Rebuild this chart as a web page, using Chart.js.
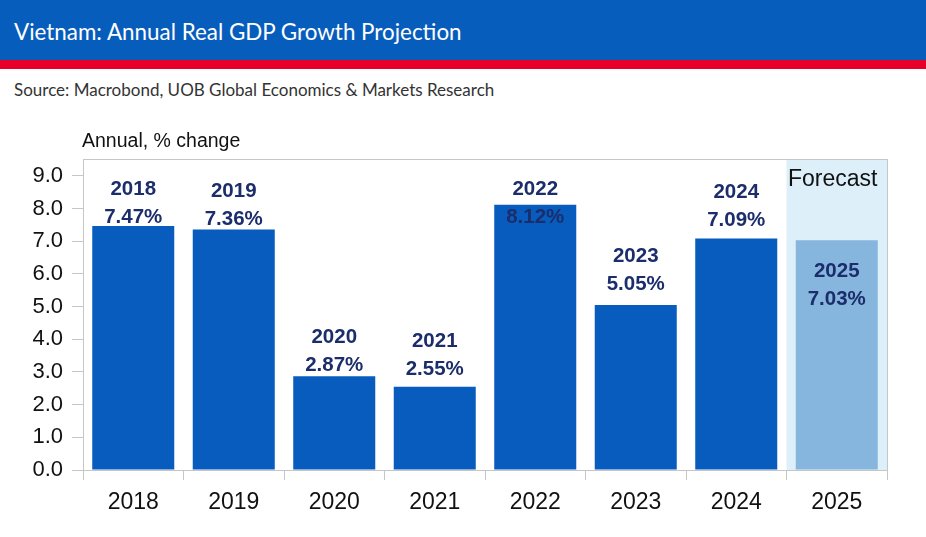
<!DOCTYPE html>
<html>
<head>
<meta charset="utf-8">
<script src="https://cdn.jsdelivr.net/npm/chart.js@4.4.1/dist/chart.umd.min.js"></script>
<style>
  html, body { margin: 0; padding: 0; background: #fff; }
  body { width: 926px; height: 537px; position: relative; overflow: hidden; }
  #head { position: absolute; left: 0; top: 0; width: 926px; height: 60px; background: #075dbc; }
  #head h1 { margin: 0; position: absolute; left: 14px; top: 18px; font: 22.4px Lato, "Open Sans", sans-serif; color: #fff; }
  #stripe { position: absolute; left: 0; top: 60px; width: 926px; height: 9px; background: #e8002b; }
  #source { position: absolute; left: 14px; top: 79px; font: 17px Lato, "Open Sans", sans-serif; color: #333; }
  #wrap { position: absolute; left: 0; top: 110px; width: 926px; height: 427px; }
</style>
</head>
<body>
<div id="head"><h1>Vietnam: Annual Real GDP Growth Projection</h1></div>
<div id="stripe"></div>
<div id="source">Source: Macrobond, UOB Global Economics &amp; Markets Research</div>
<div id="wrap"><canvas id="gdpChart"></canvas></div>
<script>
const years = ["2018", "2019", "2020", "2021", "2022", "2023", "2024", "2025"];
const growth = [7.47, 7.36, 2.87, 2.55, 8.12, 5.05, 7.09, 7.03];
const isForecast = [false, false, false, false, false, false, false, true];
const yTicks = [0, 1, 2, 3, 4, 5, 6, 7, 8, 9];
const unitLabel = "Annual, % change";
const forecastLabel = "Forecast";

// how far above the bar top the value line sits (px), negative = inside the bar
const labelLift = [9, 10, 11, 17, -13, 21, 18, -59];

const navy = "#1b2d6b";
const frameColor = "#c6c6c6";
const font = "'Liberation Sans', Arial, sans-serif";

const decorPlugin = {
    id: "decor",
    beforeDatasetsDraw(chart) {
        const { ctx, chartArea, scales } = chart;
        const x = scales.x;
        const half = (x.getPixelForValue(1) - x.getPixelForValue(0)) / 2;
        ctx.save();
        isForecast.forEach((f, i) => {
            if (!f) return;
            const cx = x.getPixelForValue(i);
            ctx.fillStyle = "#ddf0fa";
            ctx.fillRect(cx - half, chartArea.top, half * 2, chartArea.bottom - chartArea.top);
            ctx.fillStyle = "#111";
            ctx.font = "23px " + font;
            ctx.textAlign = "center";
            ctx.textBaseline = "middle";
            ctx.fillText(forecastLabel, cx - 4, chartArea.top + 21);
        });
        ctx.restore();
    },
    afterDatasetsDraw(chart) {
        const { ctx, chartArea, scales } = chart;
        ctx.save();
        // plot frame
        ctx.strokeStyle = frameColor;
        ctx.lineWidth = 1;
        ctx.strokeRect(chartArea.left + 0.5, chartArea.top + 0.5,
            chartArea.right - chartArea.left, chartArea.bottom - chartArea.top);

        // unit label
        ctx.fillStyle = "#111";
        ctx.font = "19.5px " + font;
        ctx.textAlign = "left";
        ctx.textBaseline = "middle";
        ctx.fillText(unitLabel, chartArea.left - 1, chartArea.top - 17);

        // bar labels
        ctx.fillStyle = navy;
        ctx.font = "bold 20.5px " + font;
        ctx.textAlign = "center";
        growth.forEach((v, i) => {
            const cx = scales.x.getPixelForValue(i);
            const vy = scales.y.getPixelForValue(v) - labelLift[i];
            ctx.fillText(v.toFixed(2) + "%", cx, vy);
            ctx.fillText(years[i], cx, vy - 28);
        });
        ctx.restore();
    }
};

new Chart(document.getElementById("gdpChart"), {
    type: "bar",
    data: {
        labels: years,
        datasets: [{
            data: growth,
            backgroundColor: isForecast.map(f => f ? "#86b5de" : "#075cbd"),
            borderWidth: 0,
            barPercentage: 0.816,
            categoryPercentage: 1
        }]
    },
    options: {
        responsive: true,
        maintainAspectRatio: false,
        animation: false,
        layout: { padding: { top: 49, right: 39, bottom: 0, left: 0 } },
        plugins: { legend: { display: false }, tooltip: { enabled: false } },
        scales: {
            x: {
                grid: { drawOnChartArea: false, color: frameColor, tickLength: 10, offset: true },
                border: { color: frameColor },
                ticks: { color: "#111", padding: 9, font: { family: font, size: 23 } },
                afterFit: s => { s.height = 67; }
            },
            y: {
                min: 0,
                max: 9.52,
                grid: { drawOnChartArea: false, color: frameColor, tickLength: 11 },
                border: { color: frameColor },
                afterBuildTicks: s => { s.ticks = yTicks.map(v => ({ value: v })); },
                ticks: {
                    color: "#111",
                    padding: 9,
                    font: { family: font, size: 22 },
                    callback: v => v.toFixed(1)
                },
                afterFit: s => { s.width = 83; }
            }
        }
    },
    plugins: [decorPlugin]
});
</script>
</body>
</html>
